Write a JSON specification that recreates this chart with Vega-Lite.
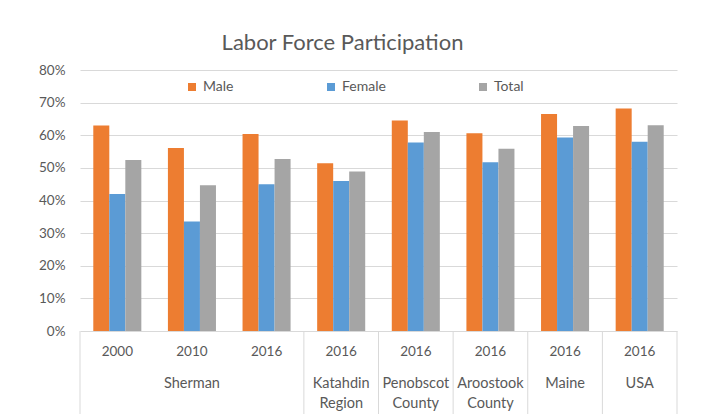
{
  "$schema": "https://vega.github.io/schema/vega-lite/v6.json",
  "width": 597,
  "height": 261,
  "autosize": {"type": "none"},
  "padding": {"left": 80, "top": 70, "right": 45, "bottom": 83},
  "background": "white",
  "config": {"font": "Lato", "view": {"stroke": null}},
  "title": {"text": "Labor Force Participation", "fontSize": 22, "font": "Lato", "fontWeight": "normal", "color": "#595959", "anchor": "middle", "dx": -36, "offset": 8},
  "data": {"values": [
    {"group": "Sherman 2000", "series": "Male", "value": 0.630},
    {"group": "Sherman 2000", "series": "Female", "value": 0.420},
    {"group": "Sherman 2000", "series": "Total", "value": 0.524},
    {"group": "Sherman 2010", "series": "Male", "value": 0.561},
    {"group": "Sherman 2010", "series": "Female", "value": 0.336},
    {"group": "Sherman 2010", "series": "Total", "value": 0.447},
    {"group": "Sherman 2016", "series": "Male", "value": 0.604},
    {"group": "Sherman 2016", "series": "Female", "value": 0.450},
    {"group": "Sherman 2016", "series": "Total", "value": 0.527},
    {"group": "Katahdin Region 2016", "series": "Male", "value": 0.514},
    {"group": "Katahdin Region 2016", "series": "Female", "value": 0.460},
    {"group": "Katahdin Region 2016", "series": "Total", "value": 0.489},
    {"group": "Penobscot County 2016", "series": "Male", "value": 0.645},
    {"group": "Penobscot County 2016", "series": "Female", "value": 0.578},
    {"group": "Penobscot County 2016", "series": "Total", "value": 0.610},
    {"group": "Aroostook County 2016", "series": "Male", "value": 0.606},
    {"group": "Aroostook County 2016", "series": "Female", "value": 0.517},
    {"group": "Aroostook County 2016", "series": "Total", "value": 0.559},
    {"group": "Maine 2016", "series": "Male", "value": 0.665},
    {"group": "Maine 2016", "series": "Female", "value": 0.593},
    {"group": "Maine 2016", "series": "Total", "value": 0.628},
    {"group": "USA 2016", "series": "Male", "value": 0.682},
    {"group": "USA 2016", "series": "Female", "value": 0.580},
    {"group": "USA 2016", "series": "Total", "value": 0.631}
  ]},
  "layer": [
    {
      "mark": {"type": "bar"},
      "encoding": {
        "x": {"field": "group", "type": "nominal",
          "scale": {"domain": ["Sherman 2000", "Sherman 2010", "Sherman 2016", "Katahdin Region 2016", "Penobscot County 2016", "Aroostook County 2016", "Maine 2016", "USA 2016"], "paddingInner": 0, "paddingOuter": 0},
          "axis": {"title": null, "domain": false, "ticks": false, "grid": false, "labelAngle": 0, "labelBaseline": "top", "labelPadding": 13, "labelFontSize": 13.5, "labelColor": "#595959", "labelOverlap": false, "labelBound": false, "labelLimit": 0,
            "labelExpr": "datum.value == 'Sherman 2000' ? '2000' : datum.value == 'Sherman 2010' ? '2010' : '2016'"}},
        "xOffset": {"field": "series", "type": "nominal", "scale": {"domain": ["Male", "Female", "Total"], "paddingOuter": 0.83, "paddingInner": 0}},
        "y": {"field": "value", "type": "quantitative",
          "scale": {"domain": [0, 0.8], "nice": false},
          "axis": {"title": null, "format": ".0%", "values": [0, 0.1, 0.2, 0.3, 0.4, 0.5, 0.6, 0.7, 0.8], "domain": false, "ticks": false, "gridColor": "#d9d9d9", "labelPadding": 15, "labelFontSize": 13.5, "labelColor": "#595959"}},
        "color": {"field": "series", "type": "nominal",
          "scale": {"domain": ["Male", "Female", "Total"], "range": ["#ED7D31", "#5B9BD5", "#A5A5A5"]},
          "legend": {"title": null, "orient": "none", "legendX": 105, "legendY": 10, "direction": "horizontal", "columns": 3, "columnPadding": 90, "symbolType": "square", "symbolSize": 64, "symbolStrokeWidth": 0, "labelFontSize": 14, "labelColor": "#595959", "labelOffset": 4}}
      }
    },
    {
      "data": {"values": [
        {"group": "Sherman 2010", "name": "Sherman"},
        {"group": "Katahdin Region 2016", "name": "Katahdin Region"},
        {"group": "Penobscot County 2016", "name": "Penobscot County"},
        {"group": "Aroostook County 2016", "name": "Aroostook County"},
        {"group": "Maine 2016", "name": "Maine"},
        {"group": "USA 2016", "name": "USA"}
      ]},
      "mark": {"type": "text", "lineBreak": " ", "lineHeight": 20, "baseline": "top", "align": "center", "fontSize": 14.5, "color": "#595959", "font": "Lato"},
      "encoding": {
        "x": {"field": "group", "type": "nominal", "bandPosition": 0.5},
        "y": {"datum": -0.14, "axis": {"title": null, "format": ".0%", "values": [0, 0.1, 0.2, 0.3, 0.4, 0.5, 0.6, 0.7, 0.8], "domain": false, "ticks": false, "gridColor": "#d9d9d9", "labelPadding": 15, "labelFontSize": 13.5, "labelColor": "#595959"}},
        "text": {"field": "name"}
      }
    },
    {
      "data": {"values": [
        {"group": "Sherman 2000"}, {"group": "Katahdin Region 2016"}, {"group": "Penobscot County 2016"}, {"group": "Aroostook County 2016"}, {"group": "Maine 2016"}, {"group": "USA 2016"}
      ]},
      "mark": {"type": "rule", "color": "#d9d9d9", "strokeWidth": 1},
      "encoding": {
        "x": {"field": "group", "type": "nominal", "bandPosition": 0},
        "y": {"datum": 0, "axis": {"title": null, "format": ".0%", "values": [0, 0.1, 0.2, 0.3, 0.4, 0.5, 0.6, 0.7, 0.8], "domain": false, "ticks": false, "gridColor": "#d9d9d9", "labelPadding": 15, "labelFontSize": 13.5, "labelColor": "#595959"}},
        "y2": {"datum": -0.26}
      }
    },
    {
      "data": {"values": [{"group": "USA 2016"}]},
      "mark": {"type": "rule", "color": "#d9d9d9", "strokeWidth": 1},
      "encoding": {
        "x": {"field": "group", "type": "nominal", "bandPosition": 1},
        "y": {"datum": 0, "axis": {"title": null, "format": ".0%", "values": [0, 0.1, 0.2, 0.3, 0.4, 0.5, 0.6, 0.7, 0.8], "domain": false, "ticks": false, "gridColor": "#d9d9d9", "labelPadding": 15, "labelFontSize": 13.5, "labelColor": "#595959"}},
        "y2": {"datum": -0.26}
      }
    }
  ]
}
